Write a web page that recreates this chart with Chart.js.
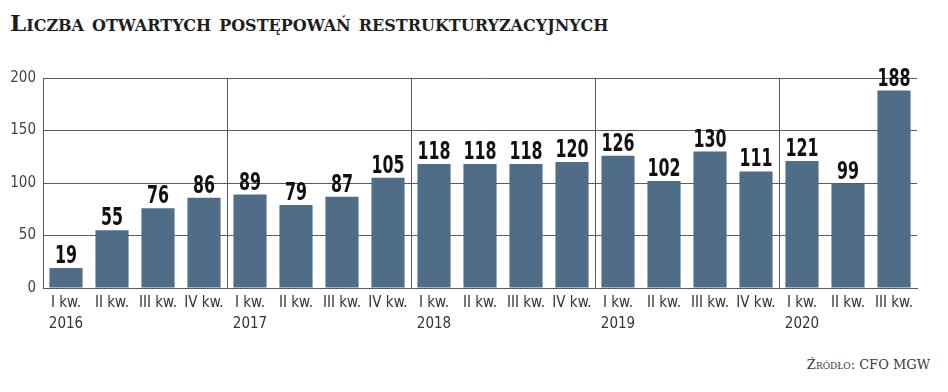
<!DOCTYPE html>
<html lang="pl">
<head>
<meta charset="utf-8">
<script src="https://cdn.jsdelivr.net/npm/chart.js@4.4.1/dist/chart.umd.min.js"></script>
<style>
    html, body { margin: 0; padding: 0; background: #fff; }
    body { width: 948px; height: 392px; position: relative; overflow: hidden; }
    #title {
        position: absolute; left: 10px; top: 9px;
        font-family: 'DejaVu Serif', serif; font-weight: bold;
        font-variant: small-caps; font-size: 23px; color: #1e1e1e;
        white-space: nowrap;
    }
    #source {
        position: absolute; right: 18px; top: 357px;
        font-family: 'DejaVu Serif', serif; font-variant: small-caps;
        font-size: 13px; color: #3a3a3a; white-space: nowrap;
    }
    #wrap { position: absolute; left: 0; top: 50px; width: 948px; height: 300px; }
</style>
</head>
<body>
<div id="title">Liczba otwartych postępowań restrukturyzacyjnych</div>
<div id="wrap"><canvas id="chart"></canvas></div>
<div id="source">Źródło: CFO MGW</div>
<script>
(function () {
    'use strict';

    // Quarters and years (year shown under the first quarter only)
    var quarters = ['I kw.', 'II kw.', 'III kw.', 'IV kw.',
                    'I kw.', 'II kw.', 'III kw.', 'IV kw.',
                    'I kw.', 'II kw.', 'III kw.', 'IV kw.',
                    'I kw.', 'II kw.', 'III kw.', 'IV kw.',
                    'I kw.', 'II kw.', 'III kw.'];
    var years = ['2016', '', '', '', '2017', '', '', '', '2018', '', '', '',
                 '2019', '', '', '', '2020', '', ''];
    var values = [19, 55, 76, 86, 89, 79, 87, 105, 118, 118, 118, 120,
                  126, 102, 130, 111, 121, 99, 188];
    var yTicks = [0, 50, 100, 150, 200];

    var labels = quarters.map(function (q, i) {
        return years[i] ? [q, years[i]] : [q];
    });

    var lineColor = '#5a5a5a';
    var narrow = '"DejaVu Sans Condensed", "DejaVu Sans", sans-serif';

    // Value labels above each bar, squeezed horizontally
    var valueLabels = {
        id: 'valueLabels',
        afterDatasetsDraw: function (chart) {
            var ctx = chart.ctx;
            var meta = chart.getDatasetMeta(0);
            var sx = 0.66;
            ctx.save();
            ctx.font = 'bold 24px "DejaVu Sans", sans-serif';
            ctx.fillStyle = '#111';
            ctx.textAlign = 'center';
            ctx.textBaseline = 'alphabetic';
            meta.data.forEach(function (bar, i) {
                ctx.save();
                ctx.translate(bar.x, bar.y - 5);
                ctx.scale(sx, 1);
                ctx.fillText(String(values[i]), 0, 0);
                ctx.restore();
            });
            ctx.restore();
        }
    };

    new Chart(document.getElementById('chart'), {
        type: 'bar',
        data: {
            labels: labels,
            datasets: [{
                data: values,
                backgroundColor: '#4f6d87',
                borderWidth: 0,
                barPercentage: 0.72,
                categoryPercentage: 1.0,
            }],
        },
        options: {
            responsive: true,
            maintainAspectRatio: false,
            animation: false,
            events: [],
            layout: { padding: { top: 28, right: 31, left: 0, bottom: 0 } },
            plugins: {
                legend: { display: false },
                tooltip: { enabled: false },
            },
            scales: {
                x: {
                    afterFit: function (scale) { scale.height = 62; },
                    grid: {
                        offset: true,
                        drawTicks: false,
                        lineWidth: 1,
                        color: function (c) {
                            return (c.index > 0 && c.index % 4 === 0) ? lineColor : 'rgba(0,0,0,0)';
                        },
                    },
                    border: { display: true, color: lineColor, width: 1 },
                    ticks: {
                        color: '#333',
                        padding: 5,
                        maxRotation: 0,
                        autoSkip: false,
                        font: { family: narrow, style: 'condensed', weight: '300', size: 15, lineHeight: 1.4 },
                    },
                },
                y: {
                    min: 0,
                    max: 200,
                    afterFit: function (scale) { scale.width = 43; },
                    afterBuildTicks: function (scale) {
                        scale.ticks = yTicks.map(function (v) { return { value: v }; });
                    },
                    grid: { drawTicks: false, color: lineColor, lineWidth: 1 },
                    border: { display: true, color: lineColor, width: 1 },
                    ticks: {
                        color: '#444',
                        padding: 7,
                        font: { family: narrow, style: 'condensed', weight: '300', size: 15 },
                    },
                },
            },
        },
        plugins: [valueLabels],
    });
})();
</script>
</body>
</html>
